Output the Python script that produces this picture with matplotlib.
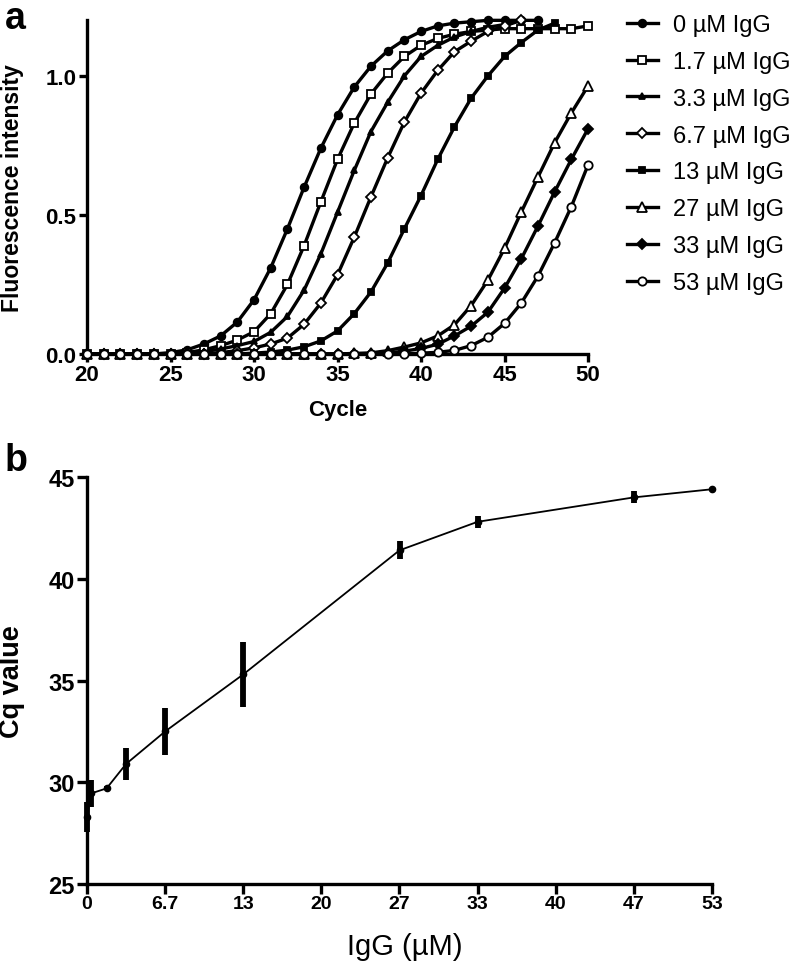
import matplotlib
matplotlib.use("Agg")
import matplotlib.pyplot as plt

plt.rcParams['font.family'] = ['Liberation Sans', 'DejaVu Sans']

# panel a: amplification curves, one value per cycle starting at cycle 20
start_cycle = 20
labels_a = ["0 µM IgG", "1.7 µM IgG", "3.3 µM IgG", "6.7 µM IgG",
            "13 µM IgG", "27 µM IgG", "33 µM IgG", "53 µM IgG"]

f_0 = [0, 0, 0, 0, 0, 0.005, 0.015, 0.036, 0.065, 0.115, 0.195, 0.31, 0.45, 0.60,
       0.74, 0.86, 0.96, 1.035, 1.09, 1.13, 1.16, 1.18, 1.19, 1.195, 1.2, 1.2, 1.2, 1.2]
f_1_7 = [0, 0, 0, 0, 0, 0, 0.005, 0.015, 0.03, 0.05, 0.08, 0.145, 0.25, 0.39, 0.547,
         0.70, 0.83, 0.935, 1.01, 1.07, 1.11, 1.135, 1.15, 1.16, 1.165, 1.17, 1.17,
         1.17, 1.17, 1.17, 1.18]
f_3_3 = [0, 0, 0, 0, 0, 0, 0, 0.008, 0.018, 0.03, 0.045, 0.078, 0.135, 0.23, 0.36,
         0.51, 0.66, 0.80, 0.905, 1.0, 1.07, 1.11, 1.14, 1.16, 1.175, 1.185, 1.2]
f_6_7 = [0, 0, 0, 0, 0, 0, 0, 0, 0.005, 0.012, 0.022, 0.036, 0.057, 0.107, 0.183,
         0.285, 0.42, 0.565, 0.705, 0.834, 0.938, 1.02, 1.087, 1.125, 1.16, 1.18, 1.2]
f_13 = [0, 0, 0, 0, 0, 0, 0, 0, 0, 0, 0.003, 0.007, 0.014, 0.026, 0.047, 0.083,
        0.145, 0.223, 0.327, 0.45, 0.57, 0.70, 0.817, 0.92, 1.0, 1.07, 1.12, 1.165, 1.19]
f_27 = [0, 0, 0, 0, 0, 0, 0, 0, 0, 0, 0, 0, 0, 0, 0, 0, 0.002, 0.004, 0.012, 0.025,
        0.04, 0.065, 0.105, 0.174, 0.265, 0.38, 0.51, 0.636, 0.76, 0.867, 0.964]
f_33 = [0, 0, 0, 0, 0, 0, 0, 0, 0, 0, 0, 0, 0, 0, 0, 0, 0, 0, 0.004, 0.01, 0.02,
        0.035, 0.065, 0.10, 0.15, 0.237, 0.342, 0.46, 0.583, 0.70, 0.81]
f_53 = [0, 0, 0, 0, 0, 0, 0, 0, 0, 0, 0, 0, 0, 0, 0, 0, 0, 0, 0, 0, 0.003, 0.006,
        0.013, 0.03, 0.06, 0.11, 0.183, 0.28, 0.40, 0.53, 0.68]

# panel b: Cq vs IgG concentration
igg = [0, 0.33, 1.67, 3.33, 6.67, 13.33, 26.67, 33.33, 46.67, 53.33]
cq = [28.3, 29.45, 29.7, 30.9, 32.5, 35.3, 41.4, 42.8, 44.0, 44.4]
cq_err = [0.75, 0.65, 0.1, 0.8, 1.15, 1.6, 0.45, 0.3, 0.3, 0.0]
tick_pos_b = [0, 6.667, 13.333, 20, 26.667, 33.333, 40, 46.667, 53.333]
tick_lab_b = ["0", "6.7", "13", "20", "27", "33", "40", "47", "53"]

fig = plt.figure(figsize=(7.89, 9.79), dpi=100)

# ---- panel a
ax = fig.add_axes([0.1103, 0.6374, 0.635, 0.3408])
series = [f_0, f_1_7, f_3_3, f_6_7, f_13, f_27, f_33, f_53]
styles = [("o", "black", 5.5), ("s", "white", 6), ("^", "black", 5), ("D", "white", 5),
          ("s", "black", 5), ("^", "white", 7.5), ("D", "black", 5), ("o", "white", 6)]
for vals, lab, (m, fc, ms) in zip(series, labels_a, styles):
    cyc = list(range(start_cycle, start_cycle + len(vals)))
    ax.plot(cyc, vals, color="black", lw=2.4, marker=m, mfc=fc, mec="black",
            mew=1.3, ms=ms, label=lab, clip_on=False, zorder=3)

ax.set_xlim(20, 50)
ax.set_ylim(0, 1.2)
ax.set_xticks([20, 25, 30, 35, 40, 45, 50])
ax.set_yticks([0.0, 0.5, 1.0])
ax.set_yticklabels(["0.0", "0.5", "1.0"])
for s in ["top", "right"]:
    ax.spines[s].set_visible(False)
for s in ["left", "bottom"]:
    ax.spines[s].set_linewidth(2.4)
ax.tick_params(width=2.4, length=6, labelsize=16, pad=1.5)
for t in ax.get_xticklabels() + ax.get_yticklabels():
    t.set_fontweight("bold")
ax.set_xlabel("Cycle", fontsize=16, fontweight="bold")
ax.set_ylabel("Fluorescence intensity", fontsize=16.5, fontweight="bold")
ax.xaxis.set_label_coords(0.5, -0.135)
ax.yaxis.set_label_coords(-0.126, 0.5)

fig.legend(loc="upper left", bbox_to_anchor=(627 / 789, 1 - 15 / 979),
           frameon=False, fontsize=17, handlelength=1.3, handletextpad=0.65,
           labelspacing=0.63, borderaxespad=0, borderpad=0)

# ---- panel b
bx = fig.add_axes([0.1103, 0.096, 0.792, 0.4157])
bx.errorbar(igg, cq, yerr=cq_err, color="black", lw=1.3, elinewidth=4.2,
            capsize=0, marker="o", ms=4.5, clip_on=False, zorder=3)
bx.set_xlim(0, 53.333)
bx.set_ylim(25, 45)
bx.set_xticks(tick_pos_b)
bx.set_xticklabels(tick_lab_b)
bx.set_yticks([25, 30, 35, 40, 45])
for s in ["top", "right"]:
    bx.spines[s].set_visible(False)
for s in ["left", "bottom"]:
    bx.spines[s].set_linewidth(2.4)
bx.tick_params(width=2.4, length=7, pad=1)
bx.tick_params(axis="y", labelsize=17, pad=2)
bx.tick_params(axis="x", labelsize=14)
for t in bx.get_xticklabels() + bx.get_yticklabels():
    t.set_fontweight("bold")
bx.set_ylabel("Cq value", fontsize=19.5, fontweight="bold")
bx.set_xlabel("IgG (µM)", fontsize=21)
bx.yaxis.set_label_coords(-0.1, 0.5)
bx.xaxis.set_label_coords(0.509, -0.118)

fig.text(0.006, 0.999, "a", fontsize=27, fontweight="bold", va="top")
fig.text(0.006, 0.547, "b", fontsize=27, fontweight="bold", va="top")

fig.savefig("out.png", dpi=100)
